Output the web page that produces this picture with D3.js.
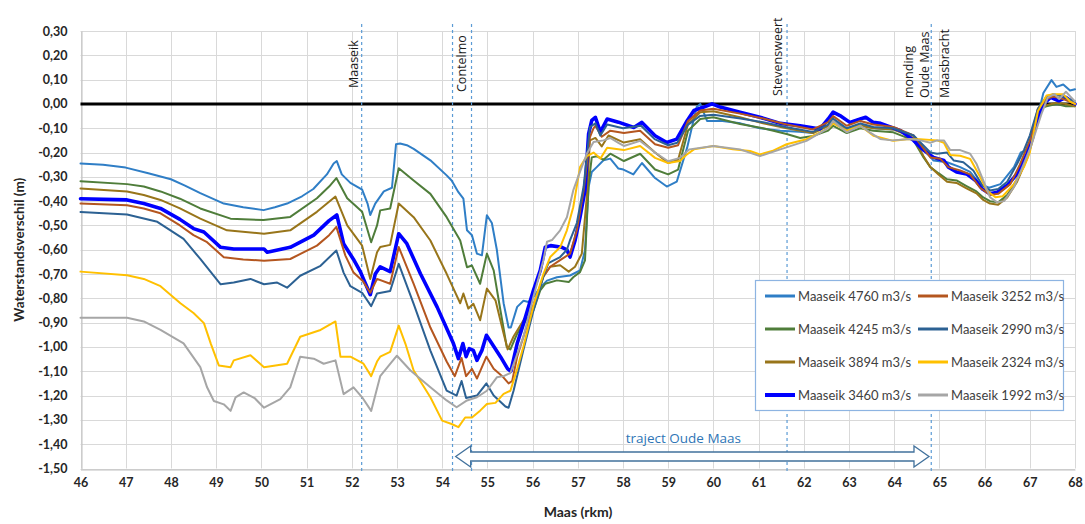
<!DOCTYPE html>
<html>
<head>
<meta charset="utf-8">
<script src="https://cdn.jsdelivr.net/npm/d3@7"></script>
<style>
  html, body { margin: 0; padding: 0; background: #fff; }
  svg { display: block; font-family: Lato, "Open Sans", sans-serif; }
</style>
</head>
<body>
<svg id="chart" width="1085" height="524"></svg>
<script>
// ---- data -------------------------------------------------------------
const xTickLabels = [46,47,48,49,50,51,52,53,54,55,56,57,58,59,60,61,62,63,64,65,66,67,68];
const yTickLabels = [0.3,0.2,0.1,0,-0.1,-0.2,-0.3,-0.4,-0.5,-0.6,-0.7,-0.8,-0.9,-1.0,-1.1,-1.2,-1.3,-1.4,-1.5];

const seriesNames = ["Maaseik 4760 m3/s","Maaseik 4245 m3/s","Maaseik 3894 m3/s","Maaseik 3460 m3/s",
                     "Maaseik 3252 m3/s","Maaseik 2990 m3/s","Maaseik 2324 m3/s","Maaseik 1992 m3/s"];

// [rkm, waterstandsverschil (m)]
const q4760 = [[46.0,-0.245],[46.5,-0.25],[47.0,-0.262],[47.5,-0.285],[48.0,-0.31],[48.3,-0.335],[48.65,-0.367],[49.17,-0.41],[49.6,-0.425],[50.05,-0.437],[50.3,-0.425],[50.57,-0.41],[50.9,-0.38],[51.15,-0.35],[51.45,-0.29],[51.6,-0.245],[51.67,-0.235],[51.78,-0.29],[51.97,-0.325],[52.23,-0.353],[52.35,-0.41],[52.41,-0.457],[52.52,-0.41],[52.71,-0.36],[52.89,-0.345],[52.98,-0.166],[53.07,-0.163],[53.22,-0.17],[53.37,-0.185],[53.74,-0.232],[54.1,-0.294],[54.21,-0.315],[54.36,-0.363],[54.47,-0.39],[54.55,-0.52],[54.66,-0.54],[54.77,-0.616],[54.88,-0.623],[54.99,-0.458],[55.1,-0.49],[55.21,-0.6],[55.36,-0.82],[55.47,-0.92],[55.52,-0.92],[55.66,-0.835],[55.8,-0.81],[55.91,-0.815],[56.02,-0.795],[56.17,-0.755],[56.32,-0.727],[56.54,-0.713],[56.83,-0.706],[57.05,-0.685],[57.16,-0.602],[57.24,-0.342],[57.31,-0.28],[57.42,-0.26],[57.57,-0.232],[57.72,-0.225],[57.9,-0.266],[58.01,-0.27],[58.23,-0.29],[58.42,-0.243],[58.71,-0.305],[58.97,-0.34],[59.19,-0.32],[59.42,-0.18],[59.63,-0.013],[59.71,0.0],[59.86,-0.07],[60.2,-0.07],[60.6,-0.08],[61.03,-0.1],[61.48,-0.11],[61.9,-0.115],[62.2,-0.12],[62.54,-0.09],[62.65,-0.065],[62.95,-0.105],[63.25,-0.085],[63.54,-0.1],[63.98,-0.105],[64.43,-0.13],[64.72,-0.2],[64.87,-0.233],[65.17,-0.24],[65.46,-0.26],[65.68,-0.28],[65.9,-0.33],[66.1,-0.345],[66.35,-0.33],[66.65,-0.26],[66.8,-0.2],[66.95,-0.19],[67.15,-0.07],[67.3,0.045],[67.48,0.098],[67.59,0.07],[67.74,0.08],[67.89,0.055],[68.0,0.06]];

const q4245 = [[46.0,-0.318],[47.03,-0.33],[47.4,-0.34],[47.77,-0.36],[48.2,-0.39],[48.65,-0.43],[49.32,-0.472],[50.05,-0.478],[50.64,-0.465],[51.23,-0.388],[51.5,-0.34],[51.66,-0.305],[51.9,-0.388],[52.23,-0.444],[52.43,-0.569],[52.56,-0.5],[52.63,-0.438],[52.85,-0.43],[53.04,-0.265],[53.37,-0.315],[53.74,-0.37],[54.1,-0.466],[54.4,-0.562],[54.55,-0.672],[54.66,-0.665],[54.84,-0.74],[54.99,-0.616],[55.14,-0.685],[55.29,-0.85],[55.43,-1.0],[55.51,-1.01],[55.66,-0.945],[55.8,-0.904],[56.02,-0.85],[56.17,-0.767],[56.28,-0.74],[56.54,-0.726],[56.8,-0.733],[56.9,-0.713],[57.05,-0.692],[57.16,-0.644],[57.24,-0.33],[57.31,-0.22],[57.42,-0.215],[57.57,-0.23],[57.72,-0.205],[58.02,-0.235],[58.38,-0.205],[58.71,-0.27],[59.0,-0.29],[59.22,-0.27],[59.44,-0.11],[59.71,-0.062],[60.0,-0.055],[60.59,-0.083],[61.1,-0.1],[61.62,-0.124],[61.92,-0.14],[62.2,-0.132],[62.54,-0.11],[62.65,-0.09],[62.95,-0.12],[63.25,-0.1],[63.54,-0.11],[63.98,-0.117],[64.43,-0.15],[64.65,-0.22],[64.8,-0.26],[64.98,-0.285],[65.17,-0.31],[65.38,-0.315],[65.6,-0.338],[65.82,-0.36],[65.97,-0.385],[66.12,-0.4],[66.3,-0.405],[66.5,-0.375],[66.72,-0.31],[66.94,-0.215],[67.08,-0.135],[67.18,-0.02],[67.37,-0.01],[67.59,0.0],[67.8,-0.01],[68.0,-0.01]];

const q3894 = [[46.0,-0.348],[47.03,-0.36],[47.4,-0.375],[47.77,-0.395],[48.2,-0.43],[48.65,-0.472],[49.24,-0.52],[50.06,-0.534],[50.64,-0.52],[51.23,-0.444],[51.64,-0.381],[51.9,-0.5],[52.23,-0.583],[52.41,-0.72],[52.56,-0.61],[52.63,-0.589],[52.85,-0.58],[53.04,-0.41],[53.37,-0.466],[53.74,-0.562],[54.1,-0.699],[54.4,-0.82],[54.47,-0.78],[54.58,-0.842],[54.69,-0.822],[54.84,-0.89],[54.99,-0.76],[55.18,-0.808],[55.36,-0.945],[55.45,-1.01],[55.58,-0.957],[55.8,-0.89],[56.02,-0.83],[56.24,-0.71],[56.39,-0.67],[56.61,-0.664],[56.8,-0.69],[56.94,-0.67],[57.09,-0.616],[57.2,-0.383],[57.27,-0.15],[57.39,-0.14],[57.53,-0.175],[57.68,-0.13],[58.02,-0.159],[58.38,-0.145],[58.71,-0.2],[59.0,-0.243],[59.22,-0.23],[59.44,-0.083],[59.71,-0.034],[60.0,-0.03],[60.59,-0.055],[61.1,-0.08],[61.62,-0.1],[62.2,-0.12],[62.54,-0.09],[62.65,-0.075],[62.95,-0.11],[63.25,-0.09],[63.54,-0.1],[63.98,-0.105],[64.43,-0.14],[64.65,-0.215],[64.8,-0.26],[64.98,-0.29],[65.17,-0.32],[65.38,-0.325],[65.6,-0.347],[65.82,-0.368],[65.97,-0.395],[66.12,-0.41],[66.3,-0.415],[66.5,-0.385],[66.72,-0.32],[66.94,-0.225],[67.08,-0.14],[67.18,-0.03],[67.37,-0.005],[67.59,0.005],[67.8,0.0],[68.0,-0.01]];

const q3460 = [[46.0,-0.39],[47.03,-0.395],[47.4,-0.41],[47.77,-0.43],[48.2,-0.475],[48.5,-0.513],[48.73,-0.527],[49.1,-0.59],[49.39,-0.597],[50.06,-0.597],[50.13,-0.61],[50.64,-0.59],[51.16,-0.54],[51.5,-0.48],[51.67,-0.457],[51.82,-0.575],[52.04,-0.64],[52.19,-0.69],[52.41,-0.785],[52.52,-0.7],[52.63,-0.67],[52.85,-0.69],[53.04,-0.534],[53.22,-0.575],[53.52,-0.699],[53.89,-0.836],[54.25,-0.986],[54.36,-1.048],[54.46,-0.986],[54.53,-1.04],[54.6,-1.007],[54.69,-1.014],[54.77,-1.055],[54.88,-1.014],[54.98,-0.952],[55.1,-0.986],[55.29,-1.04],[55.45,-1.09],[55.52,-1.1],[55.66,-0.986],[55.8,-0.904],[56.02,-0.767],[56.17,-0.685],[56.28,-0.59],[56.4,-0.583],[56.65,-0.59],[56.76,-0.6],[56.83,-0.63],[56.94,-0.562],[57.05,-0.466],[57.16,-0.356],[57.24,-0.123],[57.31,-0.068],[57.39,-0.055],[57.5,-0.116],[57.65,-0.062],[57.9,-0.075],[58.24,-0.097],[58.42,-0.076],[58.71,-0.131],[58.97,-0.159],[59.19,-0.145],[59.42,-0.069],[59.57,-0.027],[59.79,-0.013],[59.97,0.0],[60.15,-0.013],[60.59,-0.034],[61.03,-0.055],[61.48,-0.08],[61.92,-0.09],[62.36,-0.103],[62.54,-0.062],[62.65,-0.034],[62.8,-0.048],[63.02,-0.076],[63.25,-0.062],[63.37,-0.055],[63.54,-0.076],[63.7,-0.08],[64.14,-0.11],[64.43,-0.15],[64.65,-0.19],[64.87,-0.22],[65.1,-0.233],[65.2,-0.26],[65.38,-0.28],[65.6,-0.288],[65.8,-0.315],[65.95,-0.35],[66.12,-0.37],[66.28,-0.363],[66.5,-0.335],[66.72,-0.288],[66.94,-0.205],[67.08,-0.123],[67.2,-0.048],[67.3,0.0],[67.46,0.027],[67.64,0.013],[67.8,0.027],[68.0,0.0]];

const q3252 = [[46.0,-0.41],[47.03,-0.417],[47.4,-0.43],[47.77,-0.45],[48.2,-0.5],[48.5,-0.54],[48.8,-0.569],[49.17,-0.631],[49.6,-0.64],[50.06,-0.645],[50.64,-0.638],[51.23,-0.583],[51.5,-0.54],[51.66,-0.506],[51.86,-0.624],[52.04,-0.694],[52.25,-0.73],[52.41,-0.777],[52.56,-0.72],[52.85,-0.74],[53.04,-0.589],[53.37,-0.74],[53.74,-0.92],[54.1,-1.06],[54.28,-1.12],[54.43,-1.045],[54.53,-1.12],[54.66,-1.09],[54.77,-1.13],[54.98,-1.04],[55.14,-1.09],[55.33,-1.12],[55.47,-1.15],[55.55,-1.14],[55.66,-1.04],[55.8,-0.957],[56.02,-0.83],[56.24,-0.71],[56.39,-0.67],[56.61,-0.643],[56.83,-0.616],[56.98,-0.52],[57.13,-0.356],[57.27,-0.137],[57.35,-0.1],[57.39,-0.09],[57.53,-0.135],[57.72,-0.11],[58.02,-0.12],[58.38,-0.11],[58.71,-0.166],[59.0,-0.18],[59.22,-0.17],[59.44,-0.07],[59.71,-0.027],[60.0,-0.02],[60.59,-0.04],[61.1,-0.06],[61.62,-0.085],[62.2,-0.105],[62.54,-0.075],[62.65,-0.05],[62.95,-0.09],[63.25,-0.07],[63.54,-0.085],[63.98,-0.095],[64.43,-0.13],[64.8,-0.22],[65.02,-0.226],[65.2,-0.26],[65.46,-0.274],[65.68,-0.29],[65.9,-0.345],[66.12,-0.375],[66.3,-0.37],[66.57,-0.33],[66.78,-0.25],[67.0,-0.15],[67.18,-0.02],[67.37,0.02],[67.52,0.03],[67.74,0.02],[68.0,0.0]];

const q2990 = [[46.0,-0.445],[47.03,-0.455],[47.7,-0.485],[48.28,-0.555],[48.65,-0.638],[49.1,-0.742],[49.39,-0.735],[49.76,-0.72],[50.06,-0.742],[50.35,-0.735],[50.57,-0.756],[50.86,-0.707],[51.31,-0.666],[51.66,-0.603],[51.82,-0.694],[51.97,-0.75],[52.23,-0.777],[52.43,-0.832],[52.56,-0.78],[52.85,-0.77],[53.04,-0.658],[53.37,-0.823],[53.74,-1.015],[54.1,-1.18],[54.32,-1.2],[54.43,-1.14],[54.53,-1.21],[54.77,-1.2],[54.98,-1.15],[55.14,-1.2],[55.4,-1.245],[55.47,-1.25],[55.58,-1.18],[55.8,-1.01],[56.02,-0.85],[56.24,-0.71],[56.35,-0.655],[56.61,-0.63],[56.76,-0.6],[56.83,-0.56],[56.98,-0.49],[57.13,-0.34],[57.27,-0.095],[57.39,-0.08],[57.5,-0.13],[57.65,-0.085],[58.0,-0.1],[58.4,-0.09],[58.7,-0.145],[59.0,-0.17],[59.2,-0.16],[59.44,-0.085],[59.7,-0.05],[60.0,-0.045],[60.6,-0.06],[61.1,-0.075],[61.6,-0.095],[62.2,-0.115],[62.54,-0.085],[62.65,-0.06],[62.95,-0.1],[63.25,-0.08],[63.54,-0.095],[63.98,-0.1],[64.43,-0.13],[64.8,-0.2],[64.95,-0.205],[65.17,-0.2],[65.32,-0.233],[65.53,-0.24],[65.75,-0.274],[65.95,-0.335],[66.12,-0.356],[66.3,-0.35],[66.5,-0.32],[66.72,-0.246],[66.87,-0.19],[67.0,-0.13],[67.18,-0.02],[67.37,0.03],[67.52,0.04],[67.74,0.03],[68.0,0.01]];

const q2324 = [[46.0,-0.69],[47.03,-0.705],[47.4,-0.72],[47.77,-0.75],[48.21,-0.82],[48.5,-0.86],[48.73,-0.902],[48.88,-0.985],[49.06,-1.076],[49.32,-1.083],[49.39,-1.055],[49.76,-1.034],[50.06,-1.083],[50.57,-1.069],[50.86,-0.958],[51.31,-0.93],[51.64,-0.895],[51.75,-1.04],[51.97,-1.04],[52.26,-1.069],[52.43,-1.12],[52.56,-1.06],[52.63,-1.04],[52.85,-1.02],[53.04,-0.912],[53.19,-0.988],[53.37,-1.097],[53.74,-1.207],[54.0,-1.303],[54.21,-1.317],[54.36,-1.33],[54.51,-1.29],[54.66,-1.29],[54.84,-1.262],[54.99,-1.235],[55.18,-1.23],[55.36,-1.193],[55.51,-1.18],[55.66,-1.09],[55.8,-0.997],[56.02,-0.83],[56.24,-0.7],[56.39,-0.63],[56.61,-0.59],[56.76,-0.52],[56.9,-0.425],[57.05,-0.26],[57.2,-0.215],[57.35,-0.2],[57.5,-0.225],[57.65,-0.18],[58.02,-0.19],[58.38,-0.173],[58.71,-0.222],[59.0,-0.243],[59.26,-0.235],[59.4,-0.21],[59.57,-0.187],[60.0,-0.173],[60.43,-0.187],[60.81,-0.194],[61.03,-0.208],[61.3,-0.194],[61.62,-0.166],[62.06,-0.145],[62.54,-0.1],[62.65,-0.08],[62.95,-0.11],[63.25,-0.09],[63.54,-0.131],[63.98,-0.152],[64.28,-0.145],[64.57,-0.145],[64.95,-0.15],[65.1,-0.16],[65.24,-0.21],[65.46,-0.213],[65.68,-0.226],[65.9,-0.3],[66.05,-0.356],[66.24,-0.384],[66.4,-0.38],[66.65,-0.33],[66.87,-0.26],[67.0,-0.2],[67.18,-0.03],[67.37,0.035],[67.52,0.04],[67.74,0.04],[67.89,0.01],[68.0,0.0]];

const q1992 = [[46.0,-0.88],[47.03,-0.88],[47.4,-0.895],[47.77,-0.93],[48.28,-0.985],[48.65,-1.083],[48.8,-1.166],[48.95,-1.222],[49.17,-1.236],[49.32,-1.263],[49.43,-1.207],[49.61,-1.187],[49.85,-1.21],[50.06,-1.25],[50.42,-1.215],[50.64,-1.166],[50.86,-1.04],[51.16,-1.048],[51.38,-1.069],[51.64,-1.055],[51.82,-1.194],[52.04,-1.166],[52.23,-1.207],[52.43,-1.263],[52.63,-1.12],[52.85,-1.07],[53.0,-1.036],[53.3,-1.097],[53.74,-1.166],[54.1,-1.22],[54.32,-1.248],[54.55,-1.22],[54.77,-1.207],[54.99,-1.18],[55.21,-1.125],[55.36,-1.12],[55.51,-1.107],[55.8,-0.957],[56.02,-0.793],[56.24,-0.643],[56.32,-0.567],[56.43,-0.56],[56.61,-0.52],[56.76,-0.466],[56.9,-0.356],[57.02,-0.294],[57.2,-0.205],[57.35,-0.157],[57.57,-0.15],[57.72,-0.14],[57.9,-0.16],[58.02,-0.173],[58.38,-0.152],[58.71,-0.2],[59.0,-0.236],[59.26,-0.222],[59.47,-0.187],[60.0,-0.173],[60.59,-0.187],[61.03,-0.215],[61.48,-0.187],[62.06,-0.152],[62.54,-0.1],[62.65,-0.07],[62.95,-0.117],[63.25,-0.09],[63.46,-0.117],[63.69,-0.144],[63.95,-0.15],[64.36,-0.144],[64.58,-0.15],[64.8,-0.16],[64.95,-0.15],[65.1,-0.15],[65.24,-0.19],[65.46,-0.19],[65.68,-0.205],[65.82,-0.246],[65.97,-0.315],[66.12,-0.384],[66.28,-0.405],[66.43,-0.4],[66.65,-0.342],[66.87,-0.246],[67.02,-0.177],[67.26,-0.04],[67.4,0.027],[67.55,0.04],[67.65,0.02],[67.8,0.05],[67.9,0.03],[68.0,0.01]];

const seriesValues = [q4760, q4245, q3894, q3460, q3252, q2990, q2324, q1992];

// locations along the river (rkm)
const locationKm    = [52.22, 54.23, 54.65, 61.63, 64.82];
const locationNames = ["Maaseik", "Contelmo", "Stevensweert", "monding", "Oude Maas", "Maasbracht"];
const trajectKm     = [54.3, 64.77];
const trajectLabel  = "traject Oude Maas";

// ---- styling ------------------------------------------------------------
const colors = ["#2f7ec6","#4f7d3a","#98751a","#0000ff","#b4561f","#2c6193","#ffc000","#a6a6a6"];
const widths = [2, 2, 2, 3.6, 2, 2, 2, 2];

const svg = d3.select("#chart");
const plot = {left: 80.5, right: 1075, top: 31, bottom: 468.5};

const x = d3.scaleLinear().domain([46, 68]).range([plot.left, plot.right]);
const y = d3.scaleLinear().domain([-1.5, 0.3]).range([plot.bottom, plot.top]);

const nl = d3.formatLocale({decimal: ",", thousands: ".", grouping: [3], currency: ["€", ""], minus: "-"});
const fmt = nl.format(".2f");

// gridlines
const grid = svg.append("g").attr("stroke", "#d9d9d9").attr("stroke-width", 1);
grid.selectAll("line.h").data(yTickLabels).join("line")
  .attr("x1", plot.left).attr("x2", plot.right)
  .attr("y1", d => Math.round(y(d)) + 0.5).attr("y2", d => Math.round(y(d)) + 0.5);
grid.selectAll("line.v").data(xTickLabels).join("line")
  .attr("y1", plot.top).attr("y2", plot.bottom)
  .attr("x1", d => Math.round(x(d)) + 0.5).attr("x2", d => Math.round(x(d)) + 0.5);

// axes
const yAxis = svg.append("g").attr("transform", `translate(${Math.round(plot.left) + 0.5},0)`)
  .call(d3.axisLeft(y).tickValues(yTickLabels).tickFormat(fmt).tickSize(0).tickPadding(14));
const xAxis = svg.append("g").attr("transform", `translate(0,${Math.round(plot.bottom) + 0.5})`)
  .call(d3.axisBottom(x).tickValues(xTickLabels).tickFormat(d3.format("d")).tickSize(0).tickPadding(9));
[yAxis, xAxis].forEach(a => {
  a.select(".domain").attr("stroke", "#bfbfbf").attr("stroke-width", 1);
  a.selectAll("text").attr("font-family", "Lato, sans-serif").attr("font-weight", "bold")
    .attr("font-size", 12.5).attr("fill", "#262626");
});

// axis titles
svg.append("text")
  .attr("transform", `translate(24,${(plot.top + plot.bottom) / 2}) rotate(-90)`)
  .attr("text-anchor", "middle").attr("font-weight", "bold").attr("font-size", 13.5).attr("fill", "#262626")
  .text("Waterstandsverschil (m)");
svg.append("text")
  .attr("x", 578).attr("y", 517)
  .attr("text-anchor", "middle").attr("font-weight", "bold").attr("font-size", 14).attr("fill", "#262626")
  .text("Maas (rkm)");

// zero line
svg.append("line")
  .attr("x1", plot.left).attr("x2", plot.right)
  .attr("y1", y(0)).attr("y2", y(0))
  .attr("stroke", "#000").attr("stroke-width", 3);

// location markers
svg.append("g").selectAll("line").data(locationKm).join("line")
  .attr("x1", d => x(d)).attr("x2", d => x(d))
  .attr("y1", 24).attr("y2", 474)
  .attr("stroke", "#5b9bd5").attr("stroke-width", 1.2).attr("stroke-dasharray", "3,3");

const labelPos = [
  {x: x(locationKm[0]) - 8,  bottom: 88},
  {x: (x(locationKm[1]) + x(locationKm[2])) / 2, bottom: 92},
  {x: x(locationKm[3]) - 9,  bottom: 96},
  {x: x(locationKm[4]) - 23, bottom: 98},
  {x: x(locationKm[4]) - 7,  bottom: 98},
  {x: x(locationKm[4]) + 13, bottom: 98}
];
svg.append("g").selectAll("text").data(locationNames).join("text")
  .attr("transform", (d, i) => `translate(${labelPos[i].x},${labelPos[i].bottom}) rotate(-90)`)
  .attr("dy", "0.35em").attr("font-family", "'Open Sans', sans-serif")
  .attr("font-size", 12.5).attr("fill", "#1a1a1a")
  .text(d => d);

// series
const line = d3.line().x(d => x(d[0])).y(d => y(d[1]));
svg.append("g").attr("fill", "none").attr("stroke-linejoin", "round").attr("stroke-linecap", "round")
  .selectAll("path").data(seriesValues).join("path")
  .attr("d", line)
  .attr("stroke", (d, i) => colors[i])
  .attr("stroke-width", (d, i) => widths[i]);

// traject arrow (double-headed block arrow)
const ax0 = x(trajectKm[0]), ax1 = x(trajectKm[1]);
const ay = 456.5, shaft = 4.5, head = 10.5, headLen = 15;
const arrowPts = [
  [ax0, ay], [ax0 + headLen, ay - head], [ax0 + headLen, ay - shaft],
  [ax1 - headLen, ay - shaft], [ax1 - headLen, ay - head], [ax1, ay],
  [ax1 - headLen, ay + head], [ax1 - headLen, ay + shaft],
  [ax0 + headLen, ay + shaft], [ax0 + headLen, ay + head]
];
svg.append("path")
  .attr("d", d3.line()(arrowPts) + "Z")
  .attr("fill", "#fff").attr("stroke", "#41719c").attr("stroke-width", 1.3);
svg.append("text")
  .attr("x", (ax0 + ax1) / 2 - 9).attr("y", 443)
  .attr("text-anchor", "middle").attr("font-family", "'Open Sans', sans-serif")
  .attr("font-size", 13.5).attr("fill", "#2e75b6")
  .text(trajectLabel);

// legend
const lg = svg.append("g");
lg.append("rect").attr("x", 755.5).attr("y", 280.5).attr("width", 308).attr("height", 130)
  .attr("fill", "#fff").attr("stroke", "#8db4e2").attr("stroke-width", 1.2);
const item = lg.selectAll("g.item").data(seriesNames).join("g")
  .attr("transform", (d, i) => `translate(${i < 4 ? 765 : 918},${296 + (i % 4) * 33})`);
item.append("line").attr("x1", 0).attr("x2", 30)
  .attr("stroke", (d, i) => colors[i]).attr("stroke-width", (d, i) => i === 3 ? 4 : 3);
item.append("text").attr("x", 33).attr("dy", "0.35em")
  .attr("font-family", "Lato, sans-serif").attr("font-size", 13).attr("fill", "#404040")
  .text(d => d);
</script>
</body>
</html>
